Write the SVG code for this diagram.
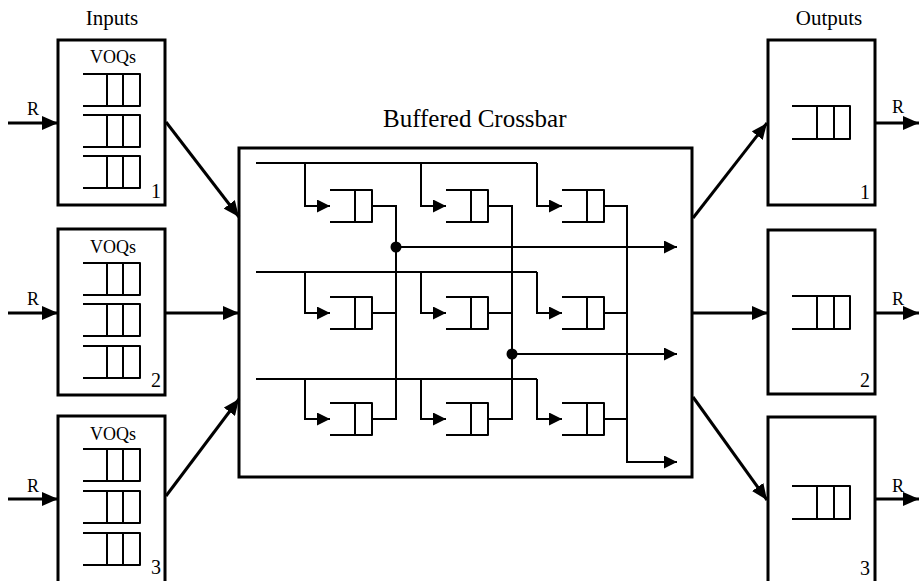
<svg xmlns="http://www.w3.org/2000/svg" xmlns:xlink="http://www.w3.org/1999/xlink" width="919" height="581" viewBox="0 0 919 581">
<style>
text{font-family:"Liberation Serif","Times New Roman",serif;fill:#000}
.box{fill:#fff;stroke:#000;stroke-width:3}
.q{fill:none;stroke:#000;stroke-width:2;stroke-linejoin:round}
.w{fill:none;stroke:#000;stroke-width:2}
.big{fill:none;stroke:#000;stroke-width:3}
.lbl{font-size:21px}
.voq{font-size:18px}
.num{font-size:20px}
.r{font-size:18px}
</style>
<defs>
<marker id="ah" markerUnits="userSpaceOnUse" markerWidth="16" markerHeight="14" refX="16" refY="7" orient="auto"><path d="M0,0 L16,7 L0,14 z" fill="#000"/></marker>
<marker id="sh" markerUnits="userSpaceOnUse" markerWidth="13" markerHeight="13" refX="13" refY="6.5" orient="auto"><path d="M0,0 L13,6.5 L0,13 z" fill="#000"/></marker>
<path id="q3" class="q" d="M0,0 H57 V32 H0 M24,0 V32 M40,0 V32"/>
<path id="q2" class="q" d="M0,0 H42 V32 H0 M25,0 V32"/>
<path id="qo" class="q" d="M0,0 H58 V33 H0 M25,0 V33 M42,0 V33"/>
</defs>
<rect width="919" height="581" fill="#fff"/>

<text class="lbl" x="112" y="25" text-anchor="middle">Inputs</text>
<text class="lbl" x="829" y="25" text-anchor="middle">Outputs</text>

<g id="input1">
<rect class="box" x="58" y="40" width="107" height="165"/>
<text class="voq" x="113" y="63" text-anchor="middle">VOQs</text>
<use xlink:href="#q3" x="83" y="74"/>
<use xlink:href="#q3" x="83" y="115"/>
<use xlink:href="#q3" x="83" y="156"/>
<text class="num" x="161" y="198" text-anchor="end">1</text>
</g>
<g id="input2">
<rect class="box" x="58" y="229" width="107" height="166"/>
<text class="voq" x="113" y="253" text-anchor="middle">VOQs</text>
<use xlink:href="#q3" x="83" y="263"/>
<use xlink:href="#q3" x="83" y="304"/>
<use xlink:href="#q3" x="83" y="346"/>
<text class="num" x="161" y="387" text-anchor="end">2</text>
</g>
<g id="input3">
<rect class="box" x="58" y="416" width="107" height="168"/>
<text class="voq" x="113" y="440" text-anchor="middle">VOQs</text>
<use xlink:href="#q3" x="83" y="449"/>
<use xlink:href="#q3" x="83" y="491"/>
<use xlink:href="#q3" x="83" y="533"/>
<text class="num" x="161" y="574" text-anchor="end">3</text>
</g>

<g id="crossbar">
<text x="383" y="127" font-size="25">Buffered Crossbar</text>
<rect class="box" x="239" y="148" width="453" height="329"/>
<use xlink:href="#q2" x="330" y="190"/>
<use xlink:href="#q2" x="446" y="190"/>
<use xlink:href="#q2" x="562" y="190"/>
<use xlink:href="#q2" x="330" y="297"/>
<use xlink:href="#q2" x="446" y="297"/>
<use xlink:href="#q2" x="562" y="297"/>
<use xlink:href="#q2" x="330" y="403"/>
<use xlink:href="#q2" x="446" y="403"/>
<use xlink:href="#q2" x="562" y="403"/>
<g id="crossbar-wires">
<path class="w" d="M256,163 H537"/>
<path class="w" d="M256,272 H537"/>
<path class="w" d="M256,379 H537"/>
<path class="w" marker-end="url(#sh)" d="M305,163 V206 H330"/>
<path class="w" marker-end="url(#sh)" d="M421,163 V206 H446"/>
<path class="w" marker-end="url(#sh)" d="M537,163 V206 H562"/>
<path class="w" marker-end="url(#sh)" d="M305,272 V313 H330"/>
<path class="w" marker-end="url(#sh)" d="M421,272 V313 H446"/>
<path class="w" marker-end="url(#sh)" d="M537,272 V313 H562"/>
<path class="w" marker-end="url(#sh)" d="M305,379 V419 H330"/>
<path class="w" marker-end="url(#sh)" d="M421,379 V419 H446"/>
<path class="w" marker-end="url(#sh)" d="M537,379 V419 H562"/>
<path class="w" d="M372,206 H396 V419 H372 M372,313 H396"/>
<path class="w" d="M488,206 H512 V419 H488 M488,313 H512"/>
<path class="w" d="M604,206 H627 V419 H604 M604,313 H627"/>
<path class="w" marker-end="url(#sh)" d="M627,419 V462 H677"/>
<path class="w" marker-end="url(#sh)" d="M396,247 H677"/>
<path class="w" marker-end="url(#sh)" d="M512,354 H677"/>
<circle cx="396" cy="247" r="5.5" fill="#000"/>
<circle cx="512" cy="354" r="5.5" fill="#000"/>
</g>
</g>

<g id="output1">
<rect class="box" x="768" y="40" width="107" height="165"/>
<use xlink:href="#qo" x="792" y="106"/>
<text class="num" x="870" y="199" text-anchor="end">1</text>
</g>
<g id="output2">
<rect class="box" x="768" y="230" width="107" height="164"/>
<use xlink:href="#qo" x="792" y="296"/>
<text class="num" x="870" y="387" text-anchor="end">2</text>
</g>
<g id="output3">
<rect class="box" x="768" y="417" width="107" height="168"/>
<use xlink:href="#qo" x="792" y="486"/>
<text class="num" x="870" y="575" text-anchor="end">3</text>
</g>

<g id="connectors">
<path class="big" marker-end="url(#ah)" d="M8,123 H58"/>
<path class="big" marker-end="url(#ah)" d="M8,313 H58"/>
<path class="big" marker-end="url(#ah)" d="M8,499 H58"/>
<text class="r" x="27" y="115">R</text>
<text class="r" x="27" y="305">R</text>
<text class="r" x="27" y="492">R</text>
<path class="big" marker-end="url(#ah)" d="M166,122 L239,217"/>
<path class="big" marker-end="url(#ah)" d="M166,313 H239"/>
<path class="big" marker-end="url(#ah)" d="M166,496 L239,399"/>
<path class="big" marker-end="url(#ah)" d="M693,218 L767,123"/>
<path class="big" marker-end="url(#ah)" d="M693,313 H768"/>
<path class="big" marker-end="url(#ah)" d="M693,397 L767,500"/>
<path class="big" marker-end="url(#ah)" d="M875,123 H919"/>
<path class="big" marker-end="url(#ah)" d="M875,313 H919"/>
<path class="big" marker-end="url(#ah)" d="M875,499 H919"/>
<text class="r" x="892" y="113">R</text>
<text class="r" x="892" y="305">R</text>
<text class="r" x="892" y="492">R</text>
</g>
</svg>
